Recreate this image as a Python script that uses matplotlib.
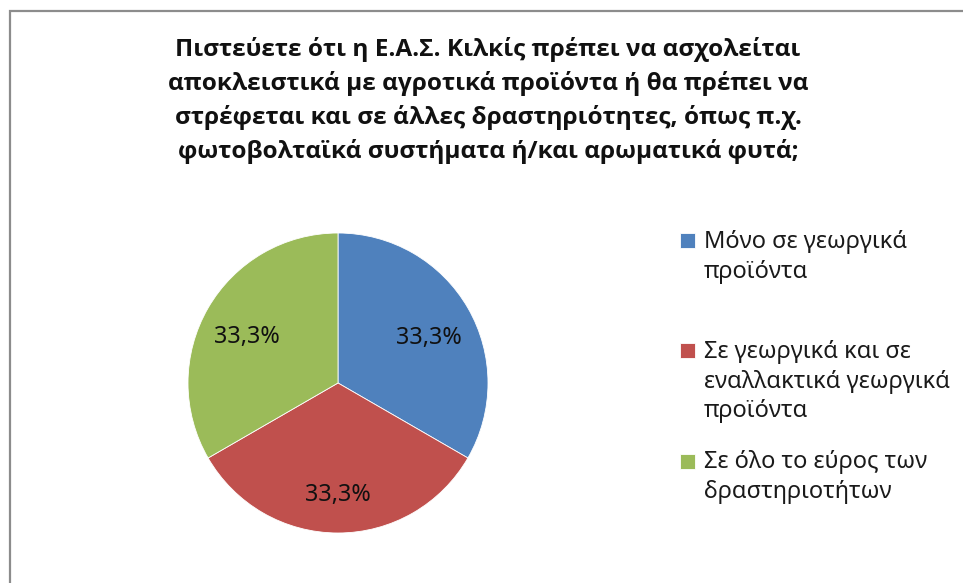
import matplotlib
matplotlib.use("Agg")
import matplotlib.pyplot as plt
from matplotlib.patches import Rectangle
from matplotlib.legend_handler import HandlerPatch
from matplotlib.transforms import ScaledTranslation

plt.rcParams['font.family'] = ['Noto Sans', 'DejaVu Sans']

title = ("Πιστεύετε ότι η Ε.Α.Σ. Κιλκίς πρέπει να ασχολείται\n"
         "αποκλειστικά με αγροτικά προϊόντα ή θα πρέπει να\n"
         "στρέφεται και σε άλλες δραστηριότητες, όπως π.χ.\n"
         "φωτοβολταϊκά συστήματα ή/και αρωματικά φυτά;")
labels = ["Μόνο σε γεωργικά\nπροϊόντα\n",
          "Σε γεωργικά και σε\nεναλλακτικά γεωργικά\nπροϊόντα",
          "Σε όλο το εύρος των\nδραστηριοτήτων"]
values = [1, 1, 1]
colors = ["#4F81BD", "#C0504D", "#9BBB59"]

LINE_PT = 32 * 0.72  # legend line spacing in points


def top_square(legend, orig_handle, xdescent, ydescent, width, height, fontsize):
    # put the square next to the first text line, as Excel does
    n = orig_handle.get_label().count("\n") + 1
    shift = (n - 1) / 2 * LINE_PT
    return Rectangle((-xdescent, -ydescent + shift), width, height)


fig = plt.figure(figsize=(9.63, 5.83), dpi=100)
ax = fig.add_axes([150.5 / 963, 12.5 / 583, 375 / 963, 375 / 583])

wedges, texts, autotexts = ax.pie(
    values, labels=labels, labeldistance=None, colors=colors,
    startangle=90, counterclock=False, pctdistance=0.7,
    autopct=lambda p: f"{p:.1f}%".replace(".", ","),
    wedgeprops=dict(edgecolor="white", linewidth=0.6),
    textprops=dict(fontsize=16.8, color="#111111"))
ax.set_xlim(-1.25, 1.25)
ax.set_ylim(-1.25, 1.25)
# Excel sits the data labels a little lower
for t in autotexts:
    t.set_transform(ax.transData + ScaledTranslation(0, -0.07, fig.dpi_scale_trans))

leg = fig.legend(handles=wedges, loc="upper left",
                 bbox_to_anchor=(680 / 963, 1 - 230 / 583),
                 frameon=False, fontsize=17, borderpad=0, borderaxespad=0,
                 handlelength=0.62, handleheight=0.62, handletextpad=0.4,
                 labelspacing=1.12,
                 handler_map={w: HandlerPatch(patch_func=top_square) for w in wedges})
for t in leg.get_texts():
    t.set_linespacing(1.32)
    t.set_color("#1a1a1a")

fig.text(488 / 963, 1 - 37 / 583, title, ha="center", va="top",
         multialignment="center", fontsize=17.6, fontweight="bold",
         family=["Open Sans", "Liberation Sans", "DejaVu Sans"],
         linespacing=1.48, color="#111111")

# chart area border (top and left visible)
fig.add_artist(Rectangle((9.5 / 963, -0.1), 1.2, (583 - 11.5) / 583 + 0.1,
                         transform=fig.transFigure, fill=False,
                         edgecolor="#8c8c8c", linewidth=1.6))

fig.savefig("out.png", dpi=100)
